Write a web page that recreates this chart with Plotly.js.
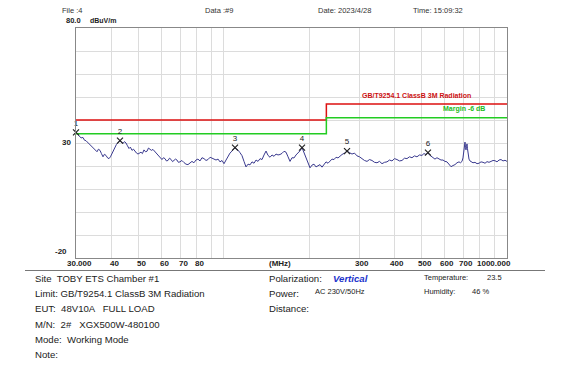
<!DOCTYPE html>
<html><head><meta charset="utf-8">
<script src="https://cdn.plot.ly/plotly-3.0.1.min.js"></script>
<style>html,body{margin:0;padding:0;background:#fff;}#chart{width:574px;height:366px;}</style>
</head><body><div id="chart"></div>
<script>
// ---- data ----
const freqMHz = [30.0,30.37,30.74,31.25,31.76,32.15,32.54,33.08,33.62,34.03,34.45,35.0,35.59,36.0,36.47,36.9,37.37,37.8,38.29,38.8,39.24,39.7,40.21,40.7,41.20,41.7,42.22,42.91,43.45,43.97,44.5,45.06,45.6,46.17,46.7,47.31,47.9,48.48,49.1,49.68,50.3,50.90,51.5,52.16,52.8,53.45,54.1,54.77,55.4,56.12,56.8,57.51,58.2,58.93,59.6,60.38,61.1,61.87,62.6,63.40,64.2,64.96,65.8,66.57,67.4,68.21,69.0,69.89,71.0,72.21,73.4,74.60,75.8,77.07,78.3,79.64,80.9,82.28,83.6,85.00,86.4,87.81,89.3,90.72,92.2,93.72,95.3,96.82,98.4,100.03,101.7,103.33,105.0,106.75,108.0,109.39,110.7,112.09,113.9,115.80,117.7,119.63,121.6,123.59,125.6,127.68,129.8,131.91,134.1,136.27,138.5,140.78,143.1,145.43,147.8,150.25,152.7,155.22,157.8,160.35,163.0,165.66,168.4,171.13,173.9,176.80,179.7,182.65,185.6,188.69,191.8,194.93,198.1,201.38,204.7,208.04,211.4,214.92,218.4,222.03,225.7,229.37,233.1,236.96,240.8,244.80,248.8,252.90,257.0,261.27,266.6,272.10,277.7,283.38,289.2,295.16,301.2,307.4,313.7,320.2,326.7,333.4,340.3,347.3,354.4,361.7,369.1,376.7,384.4,392.3,400.4,408.6,417.0,425.5,434.3,443.2,452.3,461.6,471.1,480.7,490.6,500.6,508.8,517.2,525.7,532.2,538.7,547.5,556.5,565.6,574.9,584.4,594.0,603.8,613.7,623.8,634.0,644.4,655.0,665.8,676.7,685.0,693.4,699.0,704.8,710.5,713.4,716.4,719.3,722.2,725.1,728.1,731.0,734.0,740.0,746.1,758.3,770.8,783.5,796.4,809.5,822.8,836.3,850.0,864.0,878.1,892.5,907.2,922.1,937.2,952.6,968.2,984.0,1000.0];
const levelDb = [34.6,33.8,33.5,32.2,32.4,31.2,31.0,30.1,29.3,28.6,28.0,27.2,26.2,27.3,26.8,25.4,24.0,25.1,24.6,23.5,23.2,24.0,25.5,26.8,28.5,29.4,30.2,31.0,30.4,29.8,30.6,30.0,28.8,27.6,28.2,26.8,27.3,26.2,25.6,25.2,25.8,26.0,25.4,27.0,26.2,26.4,27.8,27.4,26.8,27.2,26.4,26.0,25.0,24.0,23.2,22.8,23.6,23.2,22.2,22.4,23.4,22.9,21.9,22.3,23.0,22.6,21.6,21.8,22.4,21.5,20.8,20.6,21.4,22.0,21.4,22.6,23.0,22.2,23.6,23.2,22.4,22.8,23.8,23.4,22.8,22.6,23.0,21.8,22.4,21.0,22.6,24.2,25.6,26.5,27.2,28.0,27.4,26.9,25.8,24.5,22.0,19.6,20.8,20.5,21.8,21.2,22.6,22.0,23.2,22.8,24.8,26.5,24.6,23.8,24.8,24.2,25.2,24.8,25.0,25.5,26.4,26.0,24.0,22.0,23.6,23.5,24.8,25.5,26.6,28.0,25.6,23.8,21.0,19.2,20.4,20.8,19.6,20.0,20.6,19.5,20.8,21.8,21.2,22.2,23.0,22.8,23.8,23.5,24.4,25.0,25.6,26.5,25.8,25.2,25.6,24.4,24.0,23.2,22.4,22.0,22.8,22.4,21.6,21.4,22.0,21.0,21.6,21.8,22.6,22.2,23.2,22.8,22.2,22.4,23.4,23.2,24.0,23.6,24.4,24.0,24.8,24.6,25.4,25.0,25.8,24.8,24.2,23.4,23.0,23.6,23.2,22.6,22.6,22.0,21.8,20.8,19.7,20.2,20.6,21.4,21.8,21.4,22.0,23.5,28.0,30.4,28.0,27.0,28.5,29.6,27.5,26.0,24.0,23.0,22.2,21.8,21.4,21.6,21.0,21.2,21.8,21.6,21.2,21.9,21.6,22.0,22.4,22.3,21.8,22.6,22.8,22.2,22.5,22.0];
const limitFreq = [30, 230, 1000];
const limitDb = [40, 47, 47];
const marginDb = [34, 41, 41];
const markerFreq = [30.0, 42.91, 109.39, 188.69, 272.10, 525.7];
const markerDb = [34.6, 31.0, 28.0, 28.0, 26.5, 25.8];
const markerLabels = ["1","2","3","4","5","6"];
const gridFreq = [40,50,60,70,80,90,100,200,300,400,500,600,700,800,900];
const xTickFreq = [30,40,50,60,70,80,300,400,500,600,700,1000];
const xTickText = ["30.000","40","50","60","70","80","300","400","500","600","700","1000.000"];

// ---- geometry helpers (pixel -> paper) ----
const L=76, T=28, W=431, H=230;
const px = x => (x-L)/W;
const py = y => (T+H-y)/H;

const ann = [];
function txt(x,y,text,opt){
  opt = opt||{};
  ann.push({xref:'paper',yref:'paper',x:px(x),y:py(y),text:text,showarrow:false,
    xanchor:opt.xa||'left',yanchor:'middle',
    font:{family:'Liberation Sans, Arial, sans-serif',size:opt.size||9.6,color:opt.color||'#222'}});
}
// header
txt(60,10,'File :4',{size:7.5,color:'#333'});
txt(203,10,'Data :#9',{size:7.5,color:'#333'});
txt(316,10,'Date: 2023/4/28',{size:7.5,color:'#333'});
txt(411,10,'Time: 15:09:32',{size:7.5,color:'#333'});
txt(64,21,'<b>80.0</b>',{size:7.5});
txt(88,21,'<b>dBuV/m</b>',{size:7});
// y labels
txt(73,142,'<b>30</b>',{size:8,xa:'right'});
txt(69,251,'<b>-20</b>',{size:8,xa:'right'});
// x labels
xTickFreq.forEach((f,i)=>{
  const last = i===xTickFreq.length-1;
  ann.push({xref:'x',yref:'paper',x:Math.log10(f),y:py(263),xshift:last?6:3,text:'<b>'+xTickText[i]+'</b>',showarrow:false,
    xanchor:last?'right':'center',yanchor:'middle',font:{family:'Liberation Sans, Arial, sans-serif',size:8,color:'#222'}});
});
txt(280,263,'<b>(MHz)</b>',{size:8,xa:'center'});
// limit labels
txt(473,96,'<b>GB/T9254.1 ClassB 3M Radiation</b>',{size:7,color:'#cc1111',xa:'right'});
txt(487,109.5,'<b>Margin -6 dB</b>',{size:7,color:'#22bb22',xa:'right'});
// bottom info
txt(33,278,'Site  TOBY ETS Chamber #1');
txt(33,293,'Limit: GB/T9254.1 ClassB 3M Radiation');
txt(33,308.5,'EUT:  48V10A   FULL LOAD');
txt(33,324,'M/N:  2#   XGX500W-480100');
txt(33,339,'Mode:  Working Mode');
txt(33,354.5,'Note:');
txt(267,278,'Polarization:');
txt(331,278,'<b><i>Vertical</i></b>',{color:'#2233cc'});
txt(267,293.5,'Power:');
txt(313,291.5,'AC 230V/50Hz',{size:7.5});
txt(267,308.5,'Distance:');
txt(422,277,'Temperature:',{size:7.5});
txt(485,277,'23.5',{size:7.5});
txt(422,291.5,'Humidity:',{size:7.5});
txt(470,291.5,'46 %',{size:7.5});

const shapes = [
  {type:'line',xref:'paper',yref:'paper',x0:px(25),x1:px(545),y0:py(270.5),y1:py(270.5),line:{color:'#777',width:1}},
  {type:'line',xref:'x',yref:'paper',x0:2,x1:2,y0:0,y1:1,line:{color:'#bbbbbb',width:1},layer:'below'}
];

const traces = [
  {x:freqMHz,y:levelDb,type:'scatter',mode:'lines',line:{color:'#3a3a8f',width:1},hoverinfo:'skip'},
  {x:limitFreq,y:limitDb,type:'scatter',mode:'lines',line:{color:'#dd1111',width:1.5,shape:'hv'}},
  {x:limitFreq,y:marginDb,type:'scatter',mode:'lines',line:{color:'#22cc22',width:1.5,shape:'hv'}},
  {x:markerFreq,y:markerDb,type:'scatter',mode:'markers+text',text:markerLabels,textposition:'top center',
   marker:{symbol:'x-thin',size:6,line:{color:'#222',width:1.2}},
   textfont:{family:'Liberation Sans, Arial, sans-serif',size:8,color:'#222'},cliponaxis:false}
];

const layout = {
  width:574,height:366,showlegend:false,
  margin:{l:L,r:574-L-W,t:T,b:366-T-H,pad:0},
  paper_bgcolor:'#fff',plot_bgcolor:'#fff',
  xaxis:{type:'log',range:[Math.log10(30),3],tickvals:gridFreq,showticklabels:false,ticks:'',
    showgrid:true,gridcolor:'#dcdcdc',gridwidth:1,showline:true,linecolor:'#888',linewidth:1,mirror:true,zeroline:false},
  yaxis:{range:[-20,80],dtick:10,tick0:0,showticklabels:false,ticks:'',showgrid:true,gridcolor:'#dcdcdc',gridwidth:1,
    showline:true,linecolor:'#888',linewidth:1,mirror:true,zeroline:false},
  annotations:ann,shapes:shapes
};
Plotly.newPlot('chart',traces,layout,{staticPlot:true,displayModeBar:false});
</script></body></html>
